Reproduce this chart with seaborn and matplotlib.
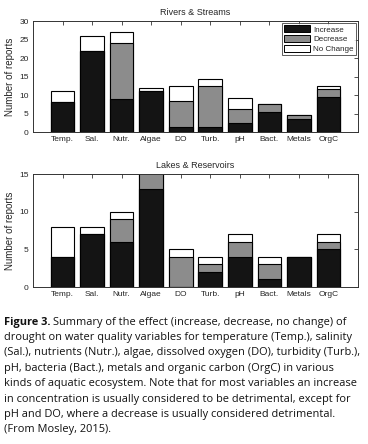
'''
Drought effects on water quality: stacked bar summary (two panels + caption).
'''
import matplotlib
matplotlib.use('Agg')
import matplotlib.pyplot as plt
import matplotlib.patches as mpatches
import numpy as np
import seaborn as sns

categories = ['Temp.', 'Sal.', 'Nutr.', 'Algae', 'DO', 'Turb.', 'pH', 'Bact.', 'Metals', 'OrgC']

# Rivers & Streams
rivers_increase = [8, 22, 9, 11, 1.3, 1.3, 2.3, 5.5, 3.5, 9.5]
rivers_decrease = [0, 0, 15, 0, 7, 11, 4, 2, 1, 2]
rivers_nochange = [3, 4, 3, 1, 4, 2, 3, 0, 0, 1]

# Lakes & Reservoirs
lakes_increase = [4, 7, 6, 13, 0, 2, 4, 1, 4, 5]
lakes_decrease = [0, 0, 3, 3, 4, 1, 2, 2, 0, 1]
lakes_nochange = [4, 1, 1, 0, 1, 1, 1, 1, 0, 1]

caption_lines = [
    'drought on water quality variables for temperature (Temp.), salinity',
    '(Sal.), nutrients (Nutr.), algae, dissolved oxygen (DO), turbidity (Turb.),',
    'pH, bacteria (Bact.), metals and organic carbon (OrgC) in various',
    'kinds of aquatic ecosystem. Note that for most variables an increase',
    'in concentration is usually considered to be detrimental, except for',
    'pH and DO, where a decrease is usually considered detrimental.',
    '(From Mosley, 2015).',
]

sns.set_style('white')
plt.rcParams['font.family'] = ['Liberation Sans', 'DejaVu Sans']

INC_COLOR = '#141414'
DEC_COLOR = '#8c8c8c'
NC_COLOR = '#ffffff'


def stacked_panel(ax, inc, dec, nc, title, ymax, yticks):
    inc = np.array(inc, dtype=float)
    dec = np.array(dec, dtype=float)
    nc = np.array(nc, dtype=float)
    layers = [(inc + dec + nc, NC_COLOR), (inc + dec, DEC_COLOR), (inc, INC_COLOR)]
    for heights, color in layers:
        sns.barplot(x=categories, y=heights, color=color, saturation=1, width=0.8,
                    edgecolor='black', linewidth=0.8, ax=ax)
    ax.set_xlim(-1, len(categories))
    ax.set_ylim(0, ymax)
    ax.set_yticks(yticks)
    ax.set_title(title, fontsize=6.5, pad=4)
    ax.set_ylabel('Number of reports', fontsize=7, labelpad=3)
    ax.tick_params(axis='both', direction='in', length=3, width=0.6, labelsize=6,
                   top=True, right=True, pad=3, color='#333333')
    for sp in ax.spines.values():
        sp.set_linewidth(0.7)
        sp.set_color('#333333')


fig = plt.figure(figsize=(3.68, 4.44), dpi=100)
ax1 = fig.add_axes([0.0897, 0.7027, 0.883, 0.25])
ax2 = fig.add_axes([0.0897, 0.3536, 0.883, 0.2545])

stacked_panel(ax1, rivers_increase, rivers_decrease, rivers_nochange,
              'Rivers & Streams', 30, [0, 5, 10, 15, 20, 25, 30])
stacked_panel(ax2, lakes_increase, lakes_decrease, lakes_nochange,
              'Lakes & Reservoirs', 15, [0, 5, 10, 15])

handles = [mpatches.Patch(facecolor=INC_COLOR, edgecolor='black', linewidth=0.7, label='Increase'),
           mpatches.Patch(facecolor=DEC_COLOR, edgecolor='black', linewidth=0.7, label='Decrease'),
           mpatches.Patch(facecolor=NC_COLOR, edgecolor='black', linewidth=0.7, label='No Change')]
leg = ax1.legend(handles=handles, loc='upper right', fontsize=5.8, frameon=True, fancybox=False,
                 handlelength=3.2, handleheight=0.9, handletextpad=0.4, labelspacing=0.2,
                 borderpad=0.3, borderaxespad=0.25)
leg.get_frame().set_edgecolor('#333333')
leg.get_frame().set_linewidth(0.7)

# Caption ########################################################
cap_font = ['Open Sans', 'DejaVu Sans']
cap_size = 7.9
cap_color = '#111111'
x0 = 4 / 368
y_first = 1 - 322 / 444
line_step = 15.4 / 444
bold = fig.text(x0, y_first, 'Figure 3.', fontsize=cap_size, fontweight='bold', family=cap_font,
                color=cap_color, va='center')
fig.canvas.draw()
bb = bold.get_window_extent()
space = 2.2 / 368
fig.text(bb.x1 / fig.bbox.width + space, y_first, 'Summary of the effect (increase, decrease, no change) of',
         fontsize=cap_size, family=cap_font, color=cap_color, va='center')
for i, line in enumerate(caption_lines):
    fig.text(x0, y_first - (i + 1) * line_step, line, fontsize=cap_size, family=cap_font,
             color=cap_color, va='center')

fig.savefig('out.png', dpi=100)
